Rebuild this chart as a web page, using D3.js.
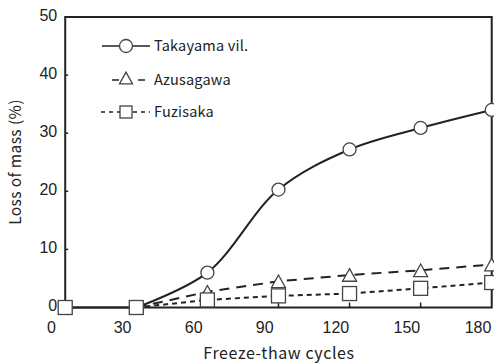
<!DOCTYPE html>
<html>
<head>
<meta charset="utf-8">
<script src="https://cdn.jsdelivr.net/npm/d3@7"></script>
<style>
  html, body { margin: 0; padding: 0; background: #fff; }
  svg { display: block; }
  text { font-family: "Noto Sans CJK JP", "Noto Sans", sans-serif; fill: #222; }
  .tick text { font-family: "Liberation Sans", Arial, sans-serif; }
</style>
</head>
<body>
<svg id="chart" width="494" height="364"></svg>
<script>
// ---- data ----
const cycles = [6, 36, 66, 96, 126, 156, 186];
const takayama = [0, 0, 6.0, 20.3, 27.2, 30.9, 34.0];
const azusagawa = [0, 0, 2.7, 4.5, 5.6, 6.4, 7.4];
const fuzisaka = [0, 0, 1.3, 2.0, 2.4, 3.3, 4.3];
const xTicks = [0, 30, 60, 90, 120, 150, 180];
const yTicks = [0, 10, 20, 30, 40, 50];
const seriesNames = ["Takayama vil.", "Azusagawa", "Fuzisaka"];
const xTitle = "Freeze-thaw cycles";
const yTitle = "Loss of mass (%)";

const svg = d3.select("#chart");
const x = d3.scaleLinear().domain([0, 180]).range([51, 477.5]);
const y = d3.scaleLinear().domain([0, 50]).range([307.5, 17]);
const x0 = x(cycles[0]), x1 = x(cycles[cycles.length - 1]);

// frame
svg.append("rect")
  .attr("x", x0).attr("y", y(50))
  .attr("width", x1 - x0).attr("height", y(0) - y(50))
  .attr("fill", "none").attr("stroke", "#222").attr("stroke-width", 2);

// y axis labels + inner ticks
const yAxis = d3.axisLeft(y).tickValues(yTicks).tickSize(0).tickPadding(8);
const gy = svg.append("g").attr("transform", `translate(${x0},-2)`).call(yAxis);
gy.select(".domain").remove();
gy.selectAll("text").style("font-size", "16px").attr("fill", "#222");
svg.append("g").selectAll("line").data(yTicks.slice(1, -1)).join("line")
  .attr("x1", x0).attr("x2", x0 + 3)
  .attr("y1", d => y(d)).attr("y2", d => y(d))
  .attr("stroke", "#222").attr("stroke-width", 1.5);

// x axis labels + inner ticks at data positions
const xAxis = d3.axisBottom(x).tickValues(xTicks).tickSize(0).tickPadding(14);
const gx = svg.append("g").attr("transform", `translate(0,${y(0)})`).call(xAxis);
gx.select(".domain").remove();
gx.selectAll("text").style("font-size", "16px").attr("fill", "#222");
svg.append("g").selectAll("line").data(cycles.slice(1, -1)).join("line")
  .attr("x1", d => x(d)).attr("x2", d => x(d))
  .attr("y1", y(0)).attr("y2", y(0) - 5)
  .attr("stroke", "#222").attr("stroke-width", 1.5);

// titles
svg.append("text").attr("x", 279).attr("y", 359)
  .attr("text-anchor", "middle").style("font-size", "16px").style("letter-spacing", "0.6px").text(xTitle);
svg.append("text").attr("transform", "translate(21,162) rotate(-90)")
  .attr("text-anchor", "middle").style("font-size", "15.5px").style("letter-spacing", "0.4px").text(yTitle);

// lines
const pts = vals => cycles.map((c, i) => [x(c), y(vals[i])]);
svg.append("path").attr("d", d3.line()(pts(takayama).slice(0, 2)))
  .attr("fill", "none").attr("stroke", "#222").attr("stroke-width", 2);
svg.append("path").attr("d", d3.line().curve(d3.curveCatmullRom.alpha(0.5))(pts(takayama).slice(1)))
  .attr("fill", "none").attr("stroke", "#222").attr("stroke-width", 2);
svg.append("path").attr("d", d3.line()(pts(azusagawa).slice(1)))
  .attr("fill", "none").attr("stroke", "#222").attr("stroke-width", 2)
  .attr("stroke-dasharray", "10,7");
svg.append("path").attr("d", d3.line()(pts(fuzisaka).slice(1)))
  .attr("fill", "none").attr("stroke", "#222").attr("stroke-width", 2)
  .attr("stroke-dasharray", "5,4");

// markers
const mk = { stroke: "#444", fill: "#fff", sw: 1.3 };
function circle(g, cx, cy, r) {
  g.append("circle").attr("cx", cx).attr("cy", cy).attr("r", r)
    .attr("fill", mk.fill).attr("stroke", mk.stroke).attr("stroke-width", mk.sw);
}
function tri(g, cx, cy, s) {
  const h = s * 0.9;
  g.append("path").attr("d", `M${cx},${cy - h / 2}L${cx + s / 2},${cy + h / 2}L${cx - s / 2},${cy + h / 2}Z`)
    .attr("fill", mk.fill).attr("stroke", mk.stroke).attr("stroke-width", mk.sw);
}
function sq(g, cx, cy, s) {
  g.append("rect").attr("x", cx - s / 2).attr("y", cy - s / 2).attr("width", s).attr("height", s)
    .attr("fill", mk.fill).attr("stroke", mk.stroke).attr("stroke-width", mk.sw);
}
const gm = svg.append("g");
pts(takayama).slice(2).forEach(p => circle(gm, p[0], p[1], 6.5));
pts(azusagawa).slice(2).forEach(p => tri(gm, p[0], p[1], 14));
pts(fuzisaka).forEach(p => sq(gm, p[0], p[1], 14));

// legend
const lg = svg.append("g");
const lx = 154;
const rows = [46, 80, 112];
lg.append("line").attr("x1", 102).attr("x2", 150).attr("y1", rows[0]).attr("y2", rows[0])
  .attr("stroke", "#222").attr("stroke-width", 1.5);
circle(lg, 126, rows[0], 6.5);
lg.append("line").attr("x1", 112).attr("x2", 145).attr("y1", rows[1]).attr("y2", rows[1])
  .attr("stroke", "#222").attr("stroke-width", 1.5).attr("stroke-dasharray", "7,19");
tri(lg, 126, rows[1] - 2, 13);
lg.append("line").attr("x1", 101).attr("x2", 150).attr("y1", rows[2]).attr("y2", rows[2])
  .attr("stroke", "#222").attr("stroke-width", 1.5).attr("stroke-dasharray", "4,4");
sq(lg, 126, rows[2], 12);
seriesNames.forEach((n, i) => {
  lg.append("text").attr("x", lx).attr("y", rows[i] + 5).style("font-size", "14.5px").style("letter-spacing", "0.2px").text(n);
});
</script>
</body>
</html>
